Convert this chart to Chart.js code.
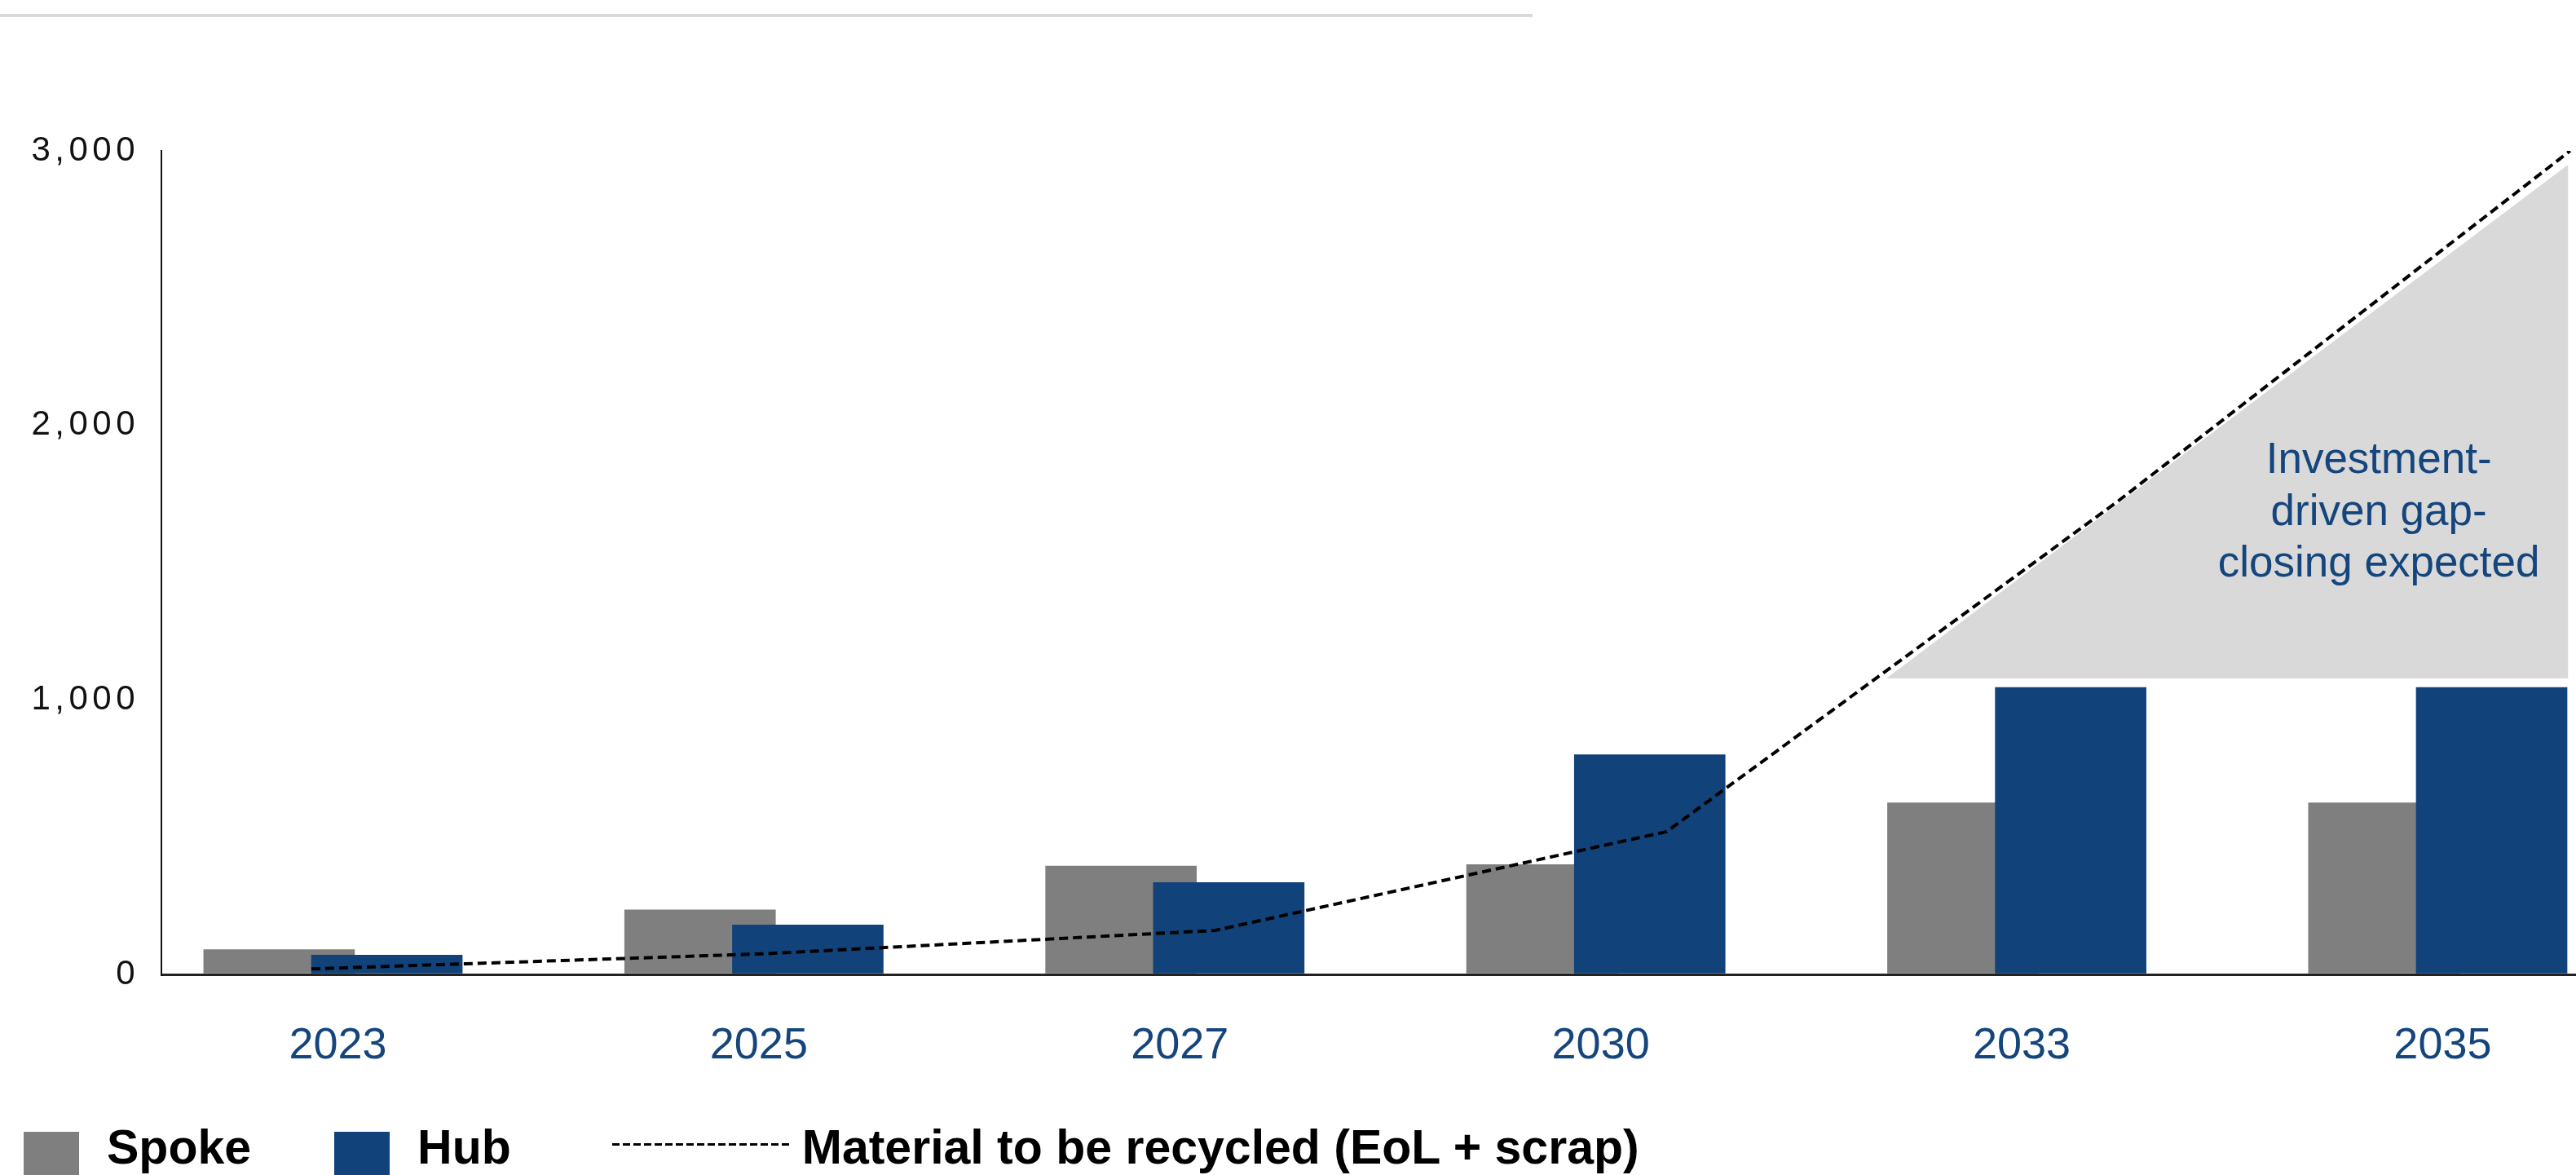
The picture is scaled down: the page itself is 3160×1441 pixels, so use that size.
<!DOCTYPE html>
<html>
<head>
<meta charset="utf-8">
<title>Spoke and Hub recycling capacity</title>
<script src="https://cdn.jsdelivr.net/npm/chart.js@4/dist/chart.umd.min.js"></script>
<style>
  html, body { margin: 0; padding: 0; background: #fff; }
  #wrap { position: relative; width: 3160px; height: 1441px; overflow: hidden;
          font-family: 'Liberation Sans', Arial, Helvetica, sans-serif; }
  #rule { position: absolute; left: 0; top: 17px; width: 1880px; height: 4px; background: #d9d9d9; }
  #chart { position: absolute; left: 0; top: 0; }
  #legend { position: absolute; left: 29px; top: 1378px; display: flex; align-items: flex-start;
            font: bold 59px/58px 'Liberation Sans', Arial, Helvetica, sans-serif; color: #000; white-space: nowrap; }
  #legend .item { display: flex; align-items: flex-start; }
  #legend .item.bar { margin-right: 102px; }
  #legend .item.line { margin-left: 22px; }
  #legend .mark { display: block; flex: none; }
  #legend .bar .mark { width: 68px; height: 68px; margin-top: 10px; margin-right: 34px; }
  #legend .line .mark { width: 221px; height: 3px; margin-top: 24px; margin-right: 12px;
            background: repeating-linear-gradient(90deg, currentColor 0 9px, transparent 9px 13px); }
</style>
</head>
<body>
<div id="wrap">
  <div id="rule"></div>
  <canvas id="chart" width="3160" height="1441"></canvas>
  <div id="legend"></div>
</div>
<script>
// Years on the horizontal axis
const categories = ['2023', '2025', '2027', '2030', '2033', '2035'];
// Capacity by site type
const spoke = [90, 235, 395, 400, 625, 625];
const hub = [70, 180, 335, 800, 1045, 1045];
// Material to be recycled (end-of-life + scrap)
const recycled = [20, 75, 160, 520, 1725, 3000];
// Value-axis ticks
const yTicks = [0, 1000, 2000, 3000];
// Shaded gap between capacity and material (category-index span, values)
const gapX = [3.69, 5.31];
const gapY = [1078, 2950];
// Note inside the shaded gap
const noteLines = ['Investment-', 'driven gap-', 'closing expected'];
const noteAt = { x: 4.86, y: 1638 };

const FONT = "'Liberation Sans', Arial, Helvetica, sans-serif";
const BLUE = '#11427a';
const LABEL_BLUE = '#14457c';
const GREY = '#7f7f7f';
const BAR_WIDTH = 185;

Chart.defaults.font.family = FONT;

// Category index range for the visible axis; spoke and hub bars sit on shifted copies of it
const axisMin = -0.4076, axisSpan = 5.736, barShift = 0.128;
// The recycled-material line uses its own evenly spaced index axis
const lineMin = -0.332, lineSpan = 5.345;

const toPoints = (arr) => arr.map((v, i) => ({ x: i, y: v }));

// Note text and letter-spaced value-axis labels
const overlay = {
  id: 'overlay',
  afterDatasetsDraw(chart) {
    const { ctx, scales } = chart;
    const cx = scales.x.getPixelForValue(noteAt.x);
    const cy = scales.y.getPixelForValue(noteAt.y);
    ctx.save();
    ctx.font = '53px ' + FONT;
    ctx.fillStyle = LABEL_BLUE;
    ctx.textAlign = 'center';
    ctx.textBaseline = 'alphabetic';
    const lh = 63.5;
    noteLines.forEach((t, i) => ctx.fillText(t, cx, cy + (i - 1) * lh));
    ctx.restore();
    // the value axis is drawn after this hook; its labels are spaced out
    ctx.letterSpacing = '5.5px';
  },
  afterDraw(chart) {
    chart.ctx.letterSpacing = '0px';
  }
};

// Legend rendered as HTML under the plot
const htmlLegend = {
  id: 'htmlLegend',
  afterUpdate(chart) {
    const box = document.getElementById('legend');
    box.innerHTML = '';
    chart.data.datasets.filter(ds => ds.label).forEach(ds => {
      const item = document.createElement('div');
      item.className = 'item ' + (ds.type === 'line' ? 'line' : 'bar');
      const mark = document.createElement('span');
      mark.className = 'mark';
      if (ds.type === 'line') mark.style.color = ds.borderColor;
      else mark.style.background = ds.backgroundColor;
      const text = document.createElement('span');
      text.textContent = ds.label;
      item.append(mark, text);
      box.appendChild(item);
    });
  }
};

const hiddenIndexAxis = (min) => ({
  type: 'linear', display: false, offset: false,
  min, max: min + axisSpan,
  grid: { offset: false },
  ticks: { stepSize: 1, includeBounds: false }
});

new Chart(document.getElementById('chart'), {
  data: {
    datasets: [
      {
        type: 'bar', label: 'Spoke', data: toPoints(spoke), xAxisID: 'xSpoke',
        backgroundColor: GREY, borderWidth: 0, order: 2,
        grouped: false, barThickness: BAR_WIDTH
      },
      {
        type: 'bar', label: 'Hub', data: toPoints(hub), xAxisID: 'xHub',
        backgroundColor: BLUE, borderWidth: 0, order: 1,
        grouped: false, barThickness: BAR_WIDTH
      },
      {
        type: 'line', label: 'Material to be recycled (EoL + scrap)', data: toPoints(recycled), xAxisID: 'xLine',
        borderColor: '#000', borderWidth: 4, borderDash: [11, 6], pointRadius: 0,
        tension: 0, fill: false, order: 0
      },
      {
        type: 'line', label: '', data: gapX.map((x, i) => ({ x, y: gapY[i] })), xAxisID: 'x',
        borderColor: 'rgba(0,0,0,0)', borderWidth: 0, pointRadius: 0, tension: 0,
        backgroundColor: '#d9d9d9', fill: { value: gapY[0] }, order: 3
      }
    ]
  },
  options: {
    responsive: false,
    animation: false,
    devicePixelRatio: 1,
    layout: { padding: { top: 185, right: 0, bottom: 0, left: 0 } },
    plugins: {
      legend: { display: false },
      tooltip: { enabled: false }
    },
    scales: {
      x: {
        type: 'linear', position: 'bottom', offset: false,
        min: axisMin, max: axisMin + axisSpan,
        grid: { display: false, drawTicks: false, offset: false },
        border: { display: false },
        ticks: {
          stepSize: 1, includeBounds: false, autoSkip: false, maxRotation: 0,
          padding: 56, labelOffset: 6, color: LABEL_BLUE, font: { size: 54 },
          callback: (v) => categories[v] ?? ''
        },
        afterFit: (s) => { s.height = 246; }
      },
      xSpoke: hiddenIndexAxis(axisMin + barShift),
      xHub: hiddenIndexAxis(axisMin - barShift),
      xLine: {
        type: 'linear', display: false, offset: false,
        min: lineMin, max: lineMin + lineSpan,
        ticks: { stepSize: 1, includeBounds: false }
      },
      y: {
        type: 'linear', position: 'left', min: 0, max: 3000,
        afterBuildTicks: (s) => { s.ticks = yTicks.map(value => ({ value })); },
        grid: {
          drawTicks: false, lineWidth: 3, z: 1,
          color: (c) => (c.tick && c.tick.value === 0) ? '#222' : 'rgba(0,0,0,0)'
        },
        border: { display: true, color: '#111', width: 2, z: 1 },
        ticks: {
          padding: 27, color: '#111', font: { size: 42 }, z: 1,
          callback: (v) => Number(v).toLocaleString('en-US')
        },
        afterFit: (s) => { s.width = 198; }
      }
    }
  },
  plugins: [overlay, htmlLegend]
});
</script>
</body>
</html>
